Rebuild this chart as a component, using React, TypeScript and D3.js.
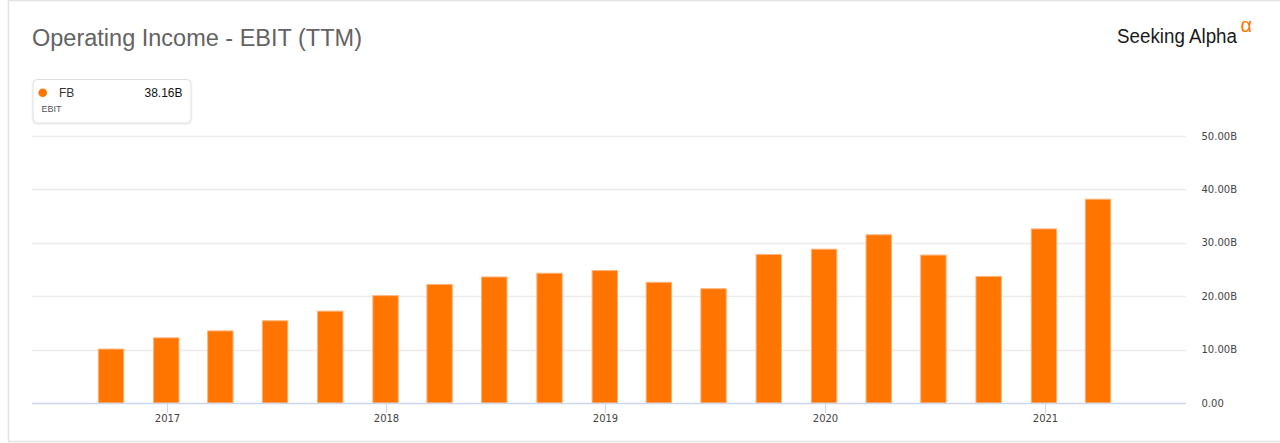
import React, { useEffect, useRef } from "react";
import * as d3 from "d3";

// Quarter-end dates of the TTM values
const quarterEnds = [
  "2016-09-30", "2016-12-31", "2017-03-31", "2017-06-30", "2017-09-30",
  "2017-12-31", "2018-03-31", "2018-06-30", "2018-09-30", "2018-12-31",
  "2019-03-31", "2019-06-30", "2019-09-30", "2019-12-31", "2020-03-31",
  "2020-06-30", "2020-09-30", "2020-12-31", "2021-03-31",
];

// Operating income (EBIT, TTM) in billions
const ebitValues = [
  10.1, 12.2, 13.5, 15.4, 17.2, 20.1, 22.2, 23.6, 24.3, 24.8,
  22.6, 21.4, 27.8, 28.8, 31.5, 27.7, 23.7, 32.6, 38.16,
];

const yTicks = [0, 10, 20, 30, 40, 50];
const yearTicks = ["2017", "2018", "2019", "2020", "2021"];

const ORANGE = "#ff7500";
const FONT = "'Liberation Sans', Arial, sans-serif";
const AXIS_FONT = "'DejaVu Sans', Verdana, sans-serif";

export default function App() {
  const svgRef = useRef<SVGSVGElement>(null);

  useEffect(() => {
    if (!svgRef.current) return;
    const svg = d3.select(svgRef.current);
    svg.selectAll("*").remove();

    const width = 1280;
    const plot = { left: 32, right: 1186, top: 136, bottom: 403 };
    const padLeft = 79; // space before first bar
    const padRight = 88; // space after last bar

    const parse = d3.timeParse("%Y-%m-%d");
    const dates = quarterEnds.map((d) => parse(d) as Date);
    const data = dates.map((date, i) => ({ date, value: ebitValues[i] }));

    const xScale = d3
      .scaleTime()
      .domain(d3.extent(dates) as [Date, Date])
      .range([plot.left + padLeft, plot.right - padRight]);

    const yScale = d3
      .scaleLinear()
      .domain([0, 50])
      .range([plot.bottom, plot.top]);

    // outer frame
    svg.append("rect")
      .attr("x", 8.5)
      .attr("y", 0.5)
      .attr("width", width + 20)
      .attr("height", 441)
      .attr("fill", "#fff")
      .attr("stroke", "#e3e3e3")
      .attr("stroke-width", 1.5);

    // title
    svg.append("text")
      .attr("x", 32)
      .attr("y", 45.5)
      .attr("fill", "#636363")
      .style("font-family", FONT)
      .style("font-size", "23.5px")
      .text("Operating Income - EBIT (TTM)");

    // logo
    svg.append("text")
      .attr("x", 1117)
      .attr("y", 42.5)
      .attr("fill", "#1a1a1a")
      .style("font-family", FONT)
      .style("font-size", "19.5px")
      .attr("textLength", 120)
      .attr("lengthAdjust", "spacingAndGlyphs")
      .text("Seeking Alpha");
    svg.append("text")
      .attr("x", 1240.5)
      .attr("y", 32)
      .attr("fill", ORANGE)
      .style("font-family", FONT)
      .style("font-size", "20px")
      .text("α");

    // legend box
    const defs = svg.append("defs");
    const shadow = defs.append("filter").attr("id", "legend-shadow")
      .attr("x", "-10%").attr("y", "-10%").attr("width", "120%").attr("height", "140%");
    shadow.append("feDropShadow")
      .attr("dx", 0).attr("dy", 1).attr("stdDeviation", 1)
      .attr("flood-color", "#000").attr("flood-opacity", 0.08);

    const legend = svg.append("g");
    legend.append("rect")
      .attr("x", 33)
      .attr("y", 79.5)
      .attr("width", 158)
      .attr("height", 43.5)
      .attr("rx", 4)
      .attr("fill", "#fff")
      .attr("stroke", "#dedede")
      .attr("filter", "url(#legend-shadow)");
    legend.append("circle")
      .attr("cx", 42.7)
      .attr("cy", 92.7)
      .attr("r", 4.3)
      .attr("fill", ORANGE);
    legend.append("text")
      .attr("x", 59)
      .attr("y", 97)
      .attr("fill", "#333")
      .style("font-family", FONT)
      .style("font-size", "12px")
      .text("FB");
    legend.append("text")
      .attr("x", 182.5)
      .attr("y", 97)
      .attr("text-anchor", "end")
      .attr("fill", "#111")
      .style("font-family", FONT)
      .style("font-size", "12px")
      .text(`${ebitValues[ebitValues.length - 1].toFixed(2)}B`);
    legend.append("text")
      .attr("x", 41.5)
      .attr("y", 111.5)
      .attr("fill", "#555")
      .style("font-family", FONT)
      .style("font-size", "9px")
      .text("EBIT");

    // gridlines + y labels
    const grid = svg.append("g");
    yTicks.forEach((t) => {
      if (t > 0) {
        grid.append("line")
          .attr("x1", plot.left)
          .attr("x2", plot.right)
          .attr("y1", Math.round(yScale(t)) + 0.5)
          .attr("y2", Math.round(yScale(t)) + 0.5)
          .attr("stroke", "#ececec")
          .attr("stroke-width", 1.3);
      }
      grid.append("text")
        .attr("x", 1201.5)
        .attr("y", yScale(t))
        .attr("dy", "0.36em")
        .attr("fill", "#444")
        .style("font-family", AXIS_FONT)
        .style("font-size", "10px")
        .text(t === 0 ? "0.00" : `${t.toFixed(2)}B`);
    });

    // bars
    const barWidth = 25.4;
    svg.append("g")
      .selectAll("rect")
      .data(data)
      .join("rect")
      .attr("x", (d) => xScale(d.date) - barWidth / 2)
      .attr("y", (d) => yScale(d.value))
      .attr("width", barWidth)
      .attr("height", (d) => yScale(0) - yScale(d.value))
      .attr("fill", ORANGE)
      .attr("stroke", "#ffb27a")
      .attr("stroke-width", 1);

    // x axis
    const xAxis = svg.append("g");
    xAxis.append("line")
      .attr("x1", plot.left)
      .attr("x2", plot.right)
      .attr("y1", plot.bottom + 0.5)
      .attr("y2", plot.bottom + 0.5)
      .attr("stroke", "#ccd6eb")
      .attr("stroke-width", 1.3);
    yearTicks.forEach((yr) => {
      const x = Math.round(xScale(new Date(+yr, 0, 1))) + 0.5;
      xAxis.append("line")
        .attr("x1", x)
        .attr("x2", x)
        .attr("y1", plot.bottom)
        .attr("y2", plot.bottom + 10)
        .attr("stroke", "#ccd6eb");
      xAxis.append("text")
        .attr("x", x)
        .attr("y", 418)
        .attr("dy", "0.36em")
        .attr("text-anchor", "middle")
        .attr("fill", "#444")
        .style("font-family", AXIS_FONT)
        .style("font-size", "10px")
        .text(yr);
    });
  }, []);

  return (
    <div style={{ position: "absolute", left: 0, top: 0 }}>
      <svg ref={svgRef} width={1280} height={443} style={{ display: "block" }} />
    </div>
  );
}
